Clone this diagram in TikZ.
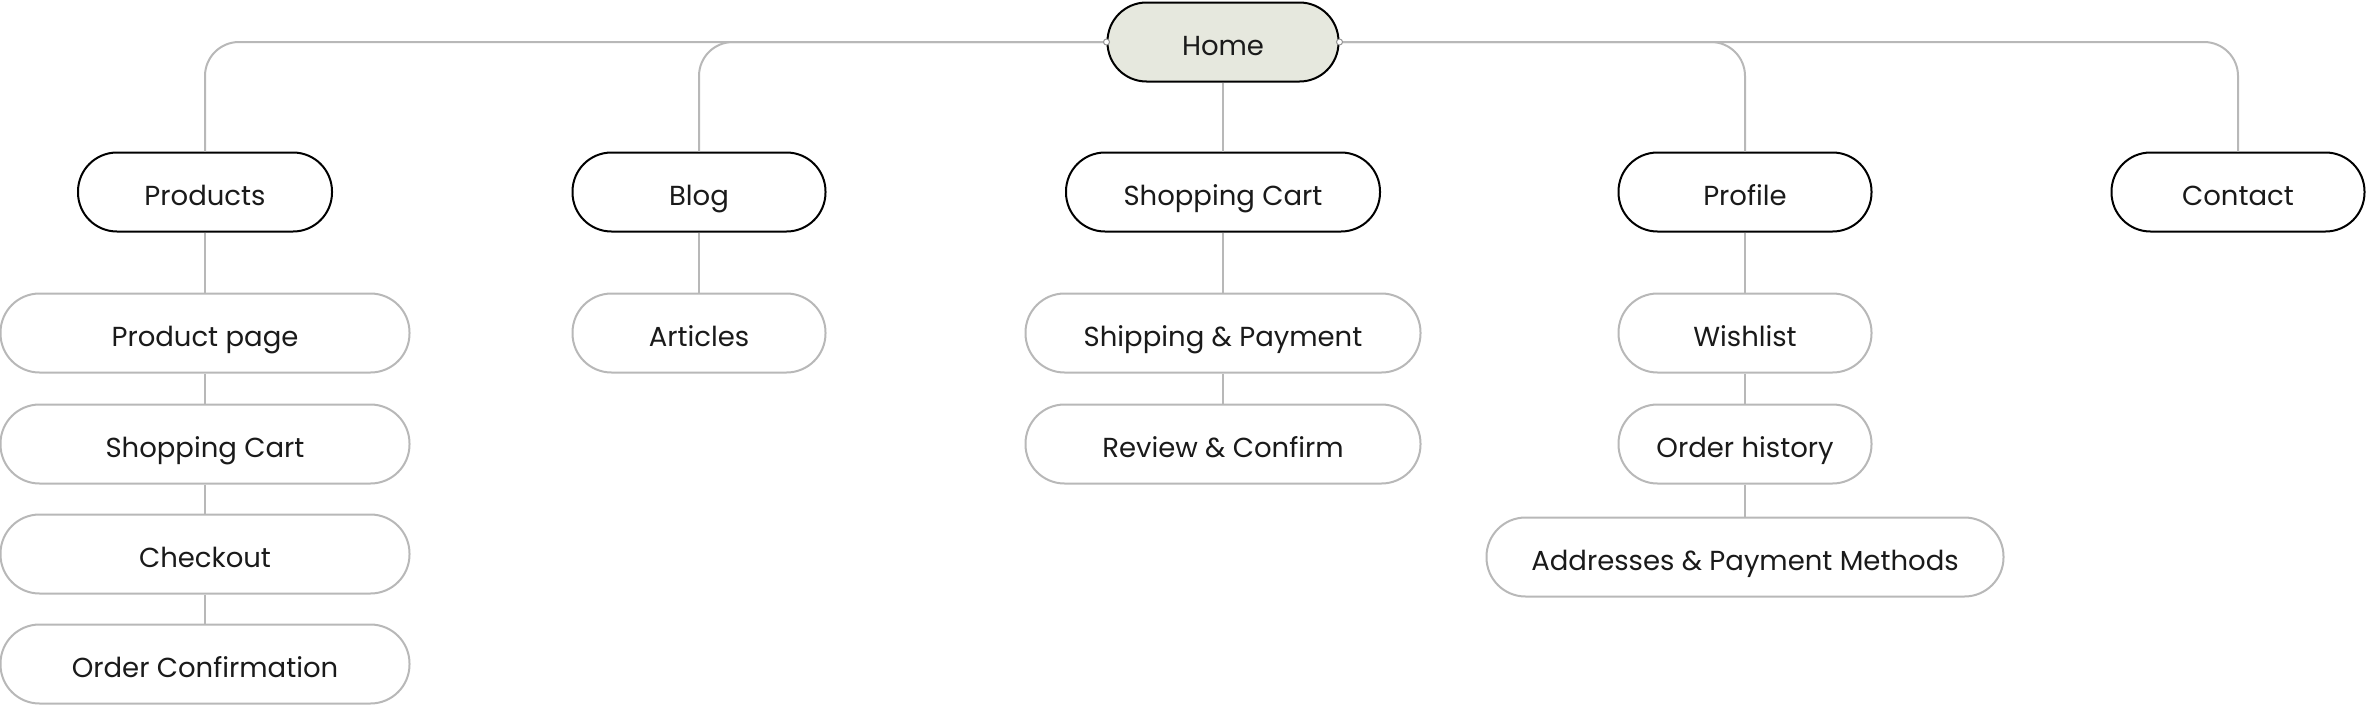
\documentclass[tikz,border=0pt]{standalone}
\usepackage{fontspec}
\setmainfont{Poppins}
\definecolor{linegray}{HTML}{B8B8B8}
\definecolor{homefill}{HTML}{E6E8DE}
\definecolor{txt}{HTML}{1A1A1A}
\begin{document}
\begin{tikzpicture}[x=1pt,y=-1pt,
  base/.style={rectangle, rounded corners=39pt, minimum height=79pt, inner sep=0pt,
    font=\fontsize{27.5}{32}\selectfont, text=txt, text height=26pt, text depth=0pt},
  mainbox/.style={base, draw=black, line width=2pt, fill=white},
  homebox/.style={base, draw=black, line width=2pt, fill=homefill},
  subbox/.style={base, draw=linegray, line width=2pt, fill=white},
  conn/.style={draw=linegray, line width=2pt, rounded corners=34pt},
  port/.style={circle, draw=linegray!80!black, fill=white, line width=1pt, minimum size=6pt, inner sep=0pt}
]
\useasboundingbox (0,0) rectangle (2366,704);

\node[homebox, minimum width=231pt] (home) at (1223,42) {Home};

\node[mainbox, minimum width=254pt] (products) at (205,192) {Products};
\node[mainbox, minimum width=253pt] (blog) at (699,192) {Blog};
\node[mainbox, minimum width=314pt] (cart) at (1223,192) {Shopping Cart};
\node[mainbox, minimum width=253pt] (profile) at (1745,192) {Profile};
\node[mainbox, minimum width=253pt] (contact) at (2238,192) {Contact};

\node[subbox, minimum width=409pt] (ppage) at (205,333) {Product page};
\node[subbox, minimum width=409pt] (pcart) at (205,444) {Shopping Cart};
\node[subbox, minimum width=409pt] (checkout) at (205,554) {Checkout};
\node[subbox, minimum width=409pt] (confirm) at (205,664) {Order Confirmation};

\node[subbox, minimum width=253pt] (articles) at (699,333) {Articles};

\node[subbox, minimum width=395pt] (shipping) at (1223,333) {Shipping \& Payment};
\node[subbox, minimum width=395pt] (review) at (1223,444) {Review \& Confirm};

\node[subbox, minimum width=253pt] (wishlist) at (1745,333) {Wishlist};
\node[subbox, minimum width=253pt] (history) at (1745,444) {Order history};
\node[subbox, minimum width=517pt] (addresses) at (1745,557) {Addresses \& Payment Methods};

\draw[conn] (home.west) -| (products.north);
\draw[conn] (home.west) -| (blog.north);
\draw[conn] (home.south) -- (cart.north);
\draw[conn] (home.east) -| (profile.north);
\draw[conn] (home.east) -| (contact.north);

\draw[conn] (products) -- (ppage);
\draw[conn] (ppage) -- (pcart);
\draw[conn] (pcart) -- (checkout);
\draw[conn] (checkout) -- (confirm);
\draw[conn] (blog) -- (articles);
\draw[conn] (cart) -- (shipping);
\draw[conn] (shipping) -- (review);
\draw[conn] (profile) -- (wishlist);
\draw[conn] (wishlist) -- (history);
\draw[conn] (history) -- (addresses);

\node[port] (pl) at (home.west) {};
\node[port] (pr) at (home.east) {};
\end{tikzpicture}
\end{document}
